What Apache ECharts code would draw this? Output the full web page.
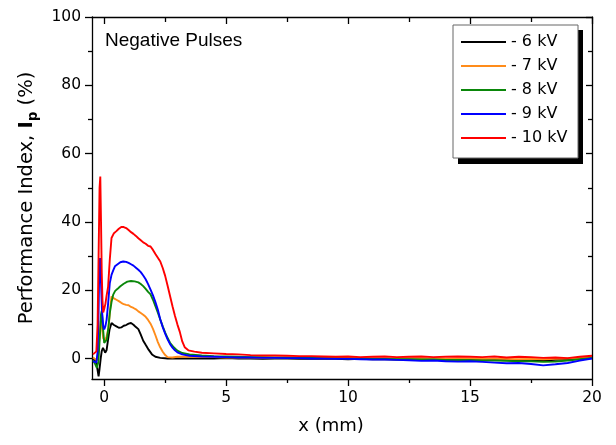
<!DOCTYPE html>
<html><head><meta charset="utf-8">
<script src="https://cdn.jsdelivr.net/npm/echarts@6/dist/echarts.min.js"></script>
<style>html,body{margin:0;padding:0;background:#fff}#c{width:616px;height:445px}</style>
</head><body><div id="c"></div>
<script>
// ---- data ----
const seriesNames = ['6 kV', '7 kV', '8 kV', '9 kV', '10 kV'];
const seriesColors = ['#000000', '#ff8c1a', '#0a870a', '#0000ff', '#ff0000'];
const xTickValues = [0, 5, 10, 15, 20];
const xMinorValues = [2.5, 7.5, 12.5, 17.5];
const yTickValues = [0, 20, 40, 60, 80, 100];
const yMinorValues = [10, 30, 50, 70, 90];

// common tail positions (mm)
const tailX = [4,4.5,5,5.5,6,6.5,7,7.5,8,8.5,9,9.5,10,10.5,11,11.5,12,12.5,13,13.5,14,14.5,15,15.5,16,16.5,17,17.5,18,18.5,19,19.5,20];

const x6 = [-0.46,-0.38,-0.32,-0.27,-0.23,-0.19,-0.14,-0.1,-0.05,0.0,0.04,0.1,0.16,0.22,0.3,0.4,0.5,0.6,0.7,0.8,0.9,1.0,1.1,1.2,1.3,1.4,1.5,1.6,1.7,1.82,1.96,2.1,2.3,2.6,3.0,3.5];
const y6 = [0.2,-0.3,-1.2,-3.5,-5.2,-3,0.2,2.2,3.1,2.4,1.7,2.5,5.6,8.5,10.4,9.8,9.4,9.0,9.1,9.6,9.8,10.2,10.4,9.9,9.2,8.6,7,5.2,4.0,2.6,1.2,0.5,0.2,0.0,0.0,0.0];
const y6Tail = [0,0,0.1,0,0,-0.1,0,0,-0.1,0,-0.1,-0.1,-0.2,-0.1,-0.2,-0.2,-0.3,-0.2,-0.3,-0.3,-0.4,-0.3,-0.4,-0.5,-0.4,-0.5,-0.6,-0.5,-0.6,-0.4,-0.3,0,0.3];

const x7 = [-0.46,-0.38,-0.3,-0.24,-0.19,-0.14,-0.09,-0.04,0.02,0.1,0.18,0.25,0.3,0.4,0.5,0.6,0.7,0.8,0.9,1.0,1.1,1.2,1.3,1.4,1.5,1.6,1.7,1.8,1.9,2.0,2.1,2.2,2.3,2.4,2.5,2.6,2.8,3.0,3.5];
const y7 = [0.3,0.2,-0.5,2,7,11,9,6,5,6.5,9,15,18.2,17.6,17.2,16.8,16.3,15.9,15.7,15.6,15.1,14.8,14.4,13.8,13.3,12.8,12.2,11.3,10.2,8.7,6.8,4.8,3.2,2.0,1.0,0.4,0.3,0.5,0.5];
const y7Tail = [0.4,0.4,0.3,0.3,0.3,0.2,0.2,0.2,0.1,0.2,0.1,0.1,0.1,0,0.1,0,0,0.1,0,0,-0.1,0,0,-0.1,-0.1,-0.1,-0.2,-0.1,-0.2,-0.1,0,0.1,0.3];

const x8 = [-0.46,-0.38,-0.3,-0.24,-0.18,-0.13,-0.1,-0.05,0.0,0.06,0.11,0.17,0.23,0.3,0.37,0.45,0.55,0.65,0.8,0.95,1.1,1.25,1.4,1.5,1.6,1.7,1.8,1.9,2.0,2.1,2.2,2.3,2.4,2.5,2.6,2.7,2.85,3.0,3.2,3.5];
const y8 = [-0.5,-1.5,-2.7,-1,6,13,14,9,4.6,5,5.5,9,13.3,16.5,18.7,19.8,20.4,21.1,21.9,22.5,22.7,22.6,22.3,21.8,21.2,20.4,19.5,18.8,17.2,15.3,13.4,11.4,9.4,7.6,6,4.6,3.3,2.3,1.6,1.2];
const y8Tail = [0.9,0.7,0.6,0.5,0.4,0.4,0.3,0.3,0.2,0.2,0.1,0.1,0,0,-0.1,-0.1,-0.2,-0.2,-0.3,-0.3,-0.4,-0.4,-0.5,-0.6,-0.6,-0.7,-0.8,-0.8,-1.0,-0.9,-0.6,-0.2,0.2];

const x9 = [-0.46,-0.38,-0.32,-0.27,-0.23,-0.2,-0.17,-0.13,-0.09,-0.04,0.0,0.05,0.1,0.16,0.23,0.3,0.37,0.44,0.55,0.66,0.78,0.9,1.0,1.1,1.2,1.3,1.4,1.5,1.6,1.7,1.8,1.9,2.0,2.1,2.2,2.3,2.4,2.5,2.6,2.7,2.8,2.9,3.0,3.2,3.5];
const y9 = [-0.8,-1.0,-1.2,2,14,27,29.4,22,14,9.5,8.5,9.5,11.4,16,22.1,24.5,25.8,27,27.6,28.2,28.4,28.3,28.0,27.6,27.2,26.6,26.0,25.3,24.3,23.2,21.8,20.2,18.5,16.5,14.3,11.4,9.2,7.3,5.6,4.2,3.2,2.4,1.8,1.2,0.8];
const y9Tail = [0.6,0.5,0.4,0.3,0.3,0.2,0.2,0.1,0.1,0,0,-0.1,-0.1,-0.2,-0.3,-0.3,-0.4,-0.5,-0.7,-0.6,-0.8,-0.9,-0.8,-1.0,-1.2,-1.4,-1.3,-1.6,-2.0,-1.7,-1.3,-0.6,0.0];

const x10 = [-0.46,-0.38,-0.32,-0.27,-0.23,-0.19,-0.16,-0.13,-0.1,-0.07,-0.04,0.0,0.05,0.1,0.16,0.23,0.3,0.4,0.5,0.6,0.7,0.8,0.9,1.0,1.1,1.2,1.3,1.4,1.5,1.6,1.7,1.8,1.9,2.0,2.1,2.2,2.3,2.4,2.5,2.6,2.7,2.8,2.9,3.0,3.1,3.2,3.3,3.45,3.7];
const y10 = [1.2,1.5,2.1,10,30,50,53.3,40,25,17,13.5,14.5,16,18.5,21,29,35.3,36.7,37.3,38.0,38.5,38.5,38.2,37.6,37.0,36.5,35.9,35.2,34.6,34.0,33.6,33.0,32.8,31.8,30.6,29.5,28.4,26.5,24.2,21.3,18.3,15.3,12.5,10.0,7.8,5.0,3.3,2.4,2.0];
const y10Tail = [1.7,1.5,1.3,1.2,1.0,0.9,0.9,0.8,0.7,0.7,0.6,0.5,0.6,0.4,0.5,0.6,0.4,0.5,0.6,0.4,0.5,0.6,0.5,0.4,0.6,0.3,0.5,0.4,0.2,0.3,0.1,0.5,0.8];

const heads = [[x6,y6,y6Tail],[x7,y7,y7Tail],[x8,y8,y8Tail],[x9,y9,y9Tail],[x10,y10,y10Tail]];

// ---- chart ----
const FONT = 'DejaVu Sans';
const X_MIN = -0.5, X_MAX = 20, Y_MIN = -6, Y_MAX = 100;

function mkX(position, ticks, len, inside, showLine, labels, extra) {
  return Object.assign({
    type: 'value', position, min: X_MIN, max: X_MAX,
    axisLine: { show: showLine, onZero: false, lineStyle: { color: '#000', width: 1.3 } },
    axisTick: { show: true, inside, length: len, customValues: ticks, lineStyle: { color: '#000', width: 1.3 } },
    axisLabel: labels ? { show: true, customValues: ticks, color: '#000', fontFamily: FONT, fontSize: 15.5, margin: 11 } : { show: false },
    splitLine: { show: false }
  }, extra || {});
}
function mkY(position, ticks, len, inside, showLine, labels, extra) {
  return Object.assign({
    type: 'value', position, min: Y_MIN, max: Y_MAX,
    axisLine: { show: showLine, onZero: false, lineStyle: { color: '#000', width: 1.3 } },
    axisTick: { show: true, inside, length: len, customValues: ticks, lineStyle: { color: '#000', width: 1.3 } },
    axisLabel: labels ? { show: true, customValues: ticks, color: '#000', fontFamily: FONT, fontSize: 15.5, margin: 11 } : { show: false },
    splitLine: { show: false }
  }, extra || {});
}

const series = seriesNames.map((name, i) => {
  const [xs, ys, yt] = heads[i];
  const data = xs.map((x, k) => [x, ys[k]]).concat(tailX.map((x, k) => [x, yt[k]]));
  return {
    name, type: 'line', data, xAxisIndex: 0, yAxisIndex: 0,
    showSymbol: false, symbol: 'none', smooth: false, clip: true,
    lineStyle: { color: seriesColors[i], width: 1.9 },
    itemStyle: { color: seriesColors[i] },
    animation: false, z: 2 + i
  };
});

const chart = echarts.init(document.getElementById('c'), null, { renderer: 'canvas' });
chart.setOption({
  animation: false,
  backgroundColor: '#fff',
  grid: { left: 92, right: 24, top: 17, bottom: 66, containLabel: false },
  xAxis: [
    mkX('bottom', xTickValues, 7, false, true, true, {
      name: 'x (mm)', nameLocation: 'middle', nameGap: 38,
      nameTextStyle: { fontFamily: FONT, fontSize: 18, color: '#000', padding: [0, 22, 0, 0] }
    }),
    mkX('bottom', xMinorValues, 4, false, false, false),
    mkX('top', xTickValues, 7, true, true, false),
    mkX('top', xMinorValues, 5, true, false, false)
  ],
  yAxis: [
    mkY('left', yTickValues, 7, false, true, true, {
      name: '{a|Performance Index, }{b|I}{c|p}{a| (%)}',
      nameLocation: 'middle', nameGap: 49,
      nameTextStyle: {
        rich: {
          a: { fontFamily: FONT, fontSize: 19.5, color: '#000', lineHeight: 28 },
          b: { fontFamily: FONT, fontSize: 19.5, fontWeight: 'bold', color: '#000', lineHeight: 28 },
          c: { fontFamily: FONT, fontSize: 13.5, fontWeight: 'bold', color: '#000', lineHeight: 15, verticalAlign: 'bottom' }
        }
      }
    }),
    mkY('left', yMinorValues, 4, false, false, false),
    mkY('right', yTickValues, 6, true, true, false),
    mkY('right', yMinorValues, 4, true, false, false)
  ],
  legend: {
    orient: 'vertical', left: 453, top: 24,
    padding: [10, 9, 10, 8], itemGap: 8, itemWidth: 45, itemHeight: 2, icon: 'rect',
    formatter: '- {name}',
    textStyle: { fontFamily: FONT, fontSize: 16, color: '#000' },
    data: seriesNames
  },
  graphic: [
    { type: 'rect', left: 458, top: 30, z: 0, shape: { width: 125, height: 134 }, style: { fill: '#000' } },
    { type: 'rect', left: 452.5, top: 24.5, z: 1, shape: { width: 125, height: 133 }, style: { fill: '#fff', stroke: '#666', lineWidth: 1 } },
    { type: 'text', left: 105, top: 31, style: { text: 'Negative Pulses', fontFamily: 'Liberation Sans', fontSize: 19, fill: '#000' } }
  ],
  series
});
</script></body></html>
